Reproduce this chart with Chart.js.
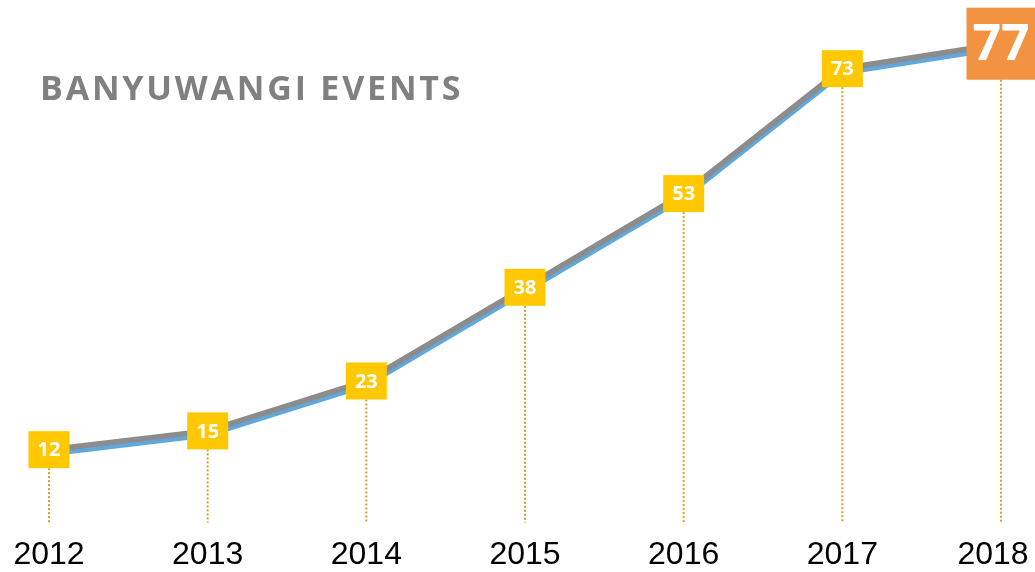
<!DOCTYPE html>
<html>
<head>
<meta charset="utf-8">
<script src="https://cdn.jsdelivr.net/npm/chart.js@4"></script>
<style>
  body { margin: 0; background: #fff; }
  #wrap { position: relative; width: 1035px; height: 572px; }
  #title {
    position: absolute; left: 40px; top: 64px;
    font-family: "Open Sans", sans-serif; font-weight: 700;
    font-size: 34px; letter-spacing: 2.8px; color: #808080;
  }
</style>
</head>
<body>
<div id="wrap">
  <canvas id="eventsChart" width="1035" height="572"></canvas>
  <div id="title">BANYUWANGI EVENTS</div>
</div>
<script>
// data
var years = ['2012', '2013', '2014', '2015', '2016', '2017', '2018'];
var events = [12, 15, 23, 38, 53, 73, 77];

// garis biru digeser sedikit ke bawah (efek bayangan)
var shiftPlugin = {
  id: 'shift',
  beforeDatasetDraw: function(chart, args) {
    if (args.index === 1) {
      chart.ctx.save();
      chart.ctx.translate(0, 4);
    }
  },
  afterDatasetDraw: function(chart, args) {
    if (args.index === 1) chart.ctx.restore();
  }
};

// kotak label + garis titik-titik
var labelPlugin = {
  id: 'boxLabels',
  afterDatasetsDraw: function(chart) {
    var ctx = chart.ctx;
    var pts = chart.getDatasetMeta(0).data;
    var bottom = chart.scales.y.getPixelForValue(0);
    ctx.save();
    pts.forEach(function(p, i) {
      var last = i === pts.length - 1;
      var w = last ? 69 : 41, h = last ? 72 : 37;
      // dotted line
      ctx.strokeStyle = '#cfa32a';
      ctx.lineWidth = 2;
      ctx.setLineDash([2, 2]);
      ctx.beginPath();
      ctx.moveTo(p.x, p.y + h / 2);
      ctx.lineTo(p.x, bottom - 2);
      ctx.stroke();
      ctx.setLineDash([]);
      // box
      ctx.fillStyle = last ? '#f29341' : '#ffc800';
      ctx.fillRect(p.x - w / 2, p.y - h / 2, w, h);
      ctx.fillStyle = '#ffffff';
      ctx.font = 'bold ' + (last ? 50 : 20) + 'px "Open Sans", sans-serif';
      ctx.textAlign = 'center';
      ctx.textBaseline = 'middle';
      ctx.fillText(String(events[i]), p.x, p.y + (last ? 2 : 1));
    });
    ctx.restore();
  }
};

var ctx = document.getElementById('eventsChart').getContext('2d');
var myChart = new Chart(ctx, {
  type: 'line',
  data: {
    labels: years,
    datasets: [{
      label: 'Events',
      data: events,
      borderColor: '#8c8c8c',
      borderWidth: 5.5,
      pointRadius: 0,
      tension: 0,
      order: 1
    }, {
      label: 'Events shadow',
      data: events,
      borderColor: '#5ea8de',
      borderWidth: 5.5,
      pointRadius: 0,
      tension: 0,
      order: 2
    }]
  },
  options: {
    responsive: false,
    animation: false,
    layout: { padding: { left: 49, right: 34, top: 0, bottom: -13 } },
    plugins: {
      legend: { display: false },
      title: { display: false },
      tooltip: { enabled: false }
    },
    scales: {
      x: {
        offset: false,
        grid: { display: false, drawTicks: false },
        border: { display: false },
        afterFit: function(scale) {
          scale.paddingLeft = 0;
          scale.paddingRight = 0;
        },
        ticks: {
          color: '#000',
          padding: 11,
          font: { family: 'Liberation Sans, Arial, sans-serif', size: 32 },
          maxRotation: 0,
          // label terakhir digeser ke kiri supaya tidak terpotong
          callback: function(val, i) {
            var t = this.getLabelForValue(val);
            return i === years.length - 1 ? t + '\u2002' : t;
          }
        }
      },
      y: {
        display: false,
        min: 0,
        max: 84
      }
    }
  },
  plugins: [shiftPlugin, labelPlugin]
});
</script>
</body>
</html>
